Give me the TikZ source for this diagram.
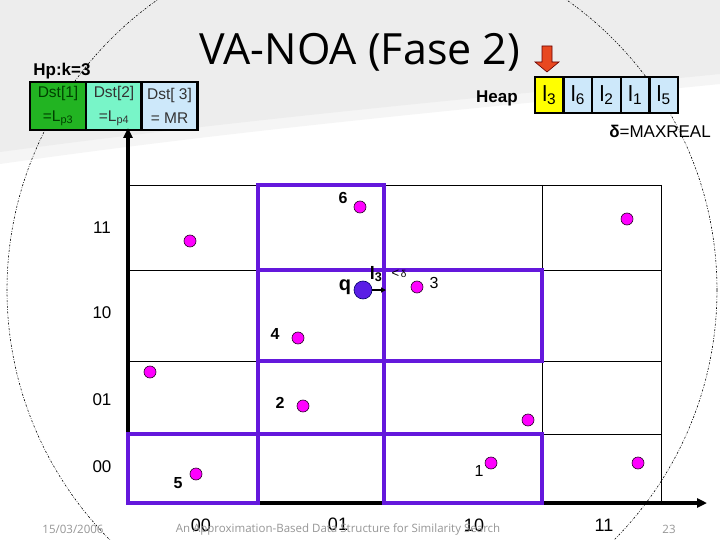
\documentclass[tikz,border=0pt]{standalone}
\usepackage{fontspec}
\setmainfont{Liberation Sans}
\newfontfamily\titlefont{Open Sans}
\usetikzlibrary{arrows.meta}
\definecolor{vpurple}{RGB}{100,24,220}
\definecolor{qblue}{RGB}{90,30,230}
\definecolor{dotmag}{RGB}{255,0,255}
\definecolor{cone}{RGB}{34,180,34}
\definecolor{ctwo}{RGB}{120,245,200}
\definecolor{cthree}{RGB}{205,232,250}
\definecolor{hyellow}{RGB}{255,255,0}
\definecolor{arrred}{RGB}{232,72,32}
\definecolor{footgray}{RGB}{150,150,150}
\tikzset{
  pt/.style={circle,fill=dotmag,draw=black!70!violet,line width=0.6pt,minimum size=12pt,inner sep=0pt},
  qpt/.style={circle,fill=qblue,draw=black!60!blue,line width=0.6pt,minimum size=18pt,inner sep=0pt},
  plab/.style={font=\fontsize{16}{16}\selectfont\bfseries,inner sep=0pt},
  axlab/.style={font=\fontsize{17}{17}\selectfont,inner sep=0pt},
  gridline/.style={black,line width=0.8pt},
  purp/.style={vpurple,line width=4pt,line cap=rect},
  axis/.style={black,line width=3.2pt,-{Triangle[length=10pt,width=9pt]}},
  dstcell/.style={draw=black,line width=2.5pt,minimum width=56pt,minimum height=48pt,inner sep=0pt,align=center,font=\fontsize{15.5}{24}\selectfont},
  heapcell/.style={draw=black,line width=2.5pt,fill=cthree,minimum width=28.6pt,minimum height=36pt,inner sep=0pt,font=\fontsize{22}{22}\selectfont},
  foot/.style={text=footgray,font=\titlefont\fontsize{11.5}{12}\selectfont,inner sep=0pt}
}
\begin{document}
\begin{tikzpicture}[x=1pt,y=-1pt]
\useasboundingbox (0,0) rectangle (720,540);
\clip (0,0) rectangle (720,540);
\fill[white] (0,0) rectangle (720,540);
\fill[black!4] (0,0) -- (720,0) -- (720,84) .. controls (520,104) and (250,128) .. (0,164) -- cycle;
\fill[black!7] (0,0) -- (720,0) -- (720,74) .. controls (520,94) and (250,118) .. (0,152) -- cycle;

% dotted circle
\draw[black,line width=0.6pt,dash pattern=on 2pt off 1.5pt on 0.6pt off 1.5pt] (362,290) circle (355pt);

% title
\node[font=\titlefont\fontsize{43}{43}\selectfont,anchor=base,inner sep=0pt] (title) at (360,65) {VA-NOA (Fase 2)};

% Hp table
\node[font=\fontsize{17}{17}\selectfont\bfseries,inner sep=0pt] (hp) at (62,71) {Hp:k=3};
\node[dstcell,fill=cone,text=green!25!black] (d1) at (58,106) {Dst[1]\\=L\textsubscript{p3}};
\node[dstcell,fill=ctwo,text=black!80] (d2) at (114,106) {Dst[2]\\=L\textsubscript{p4}};
\node[dstcell,fill=cthree,text=black!80] (d3) at (169.5,106) {Dst[ 3]\\= MR};

% heap
\node[font=\fontsize{17}{17}\selectfont\bfseries,inner sep=0pt] (heaplab) at (497,98) {Heap};
\node[heapcell,fill=hyellow] (h1) at (549.3,95) {l\textsubscript{3}};
\node[heapcell] (h2) at (577.9,95) {l\textsubscript{6}};
\node[heapcell] (h3) at (606.5,95) {l\textsubscript{2}};
\node[heapcell] (h4) at (635.1,95) {l\textsubscript{1}};
\node[heapcell] (h5) at (663.7,95) {l\textsubscript{5}};
\fill[arrred,draw=black!60!red,line width=0.6pt] (542,46) -- (552,46) -- (552,62) -- (559,62) -- (547,72) -- (535,62) -- (542,62) -- cycle;
\node[font=\fontsize{17}{17}\selectfont,inner sep=0pt] (delta) at (660,131) {{\bfseries δ}=MAXREAL};

% grid thin lines
\draw[gridline] (128,185) -- (661,185);
\draw[gridline] (128,270) -- (661,270);
\draw[gridline] (128,361) -- (661,361);
\draw[gridline] (128,434) -- (661,434);
\draw[gridline] (542,185) -- (542,503);
\draw[gridline] (661,185) -- (661,503);

% axes
\coordinate (o) at (128,503);
\coordinate (ytop) at (128,128);
\coordinate (xend) at (707,503);
\draw[axis] (o) -- (ytop);
\draw[axis] (o) -- (xend);

% purple highlighted cells
\draw[purp] (258,185) -- (384,185);
\draw[purp] (258,270) -- (542,270);
\draw[purp] (258,361) -- (542,361);
\draw[purp] (128,434) -- (542,434);
\draw[purp] (128,503) -- (258,503);
\draw[purp] (384,503) -- (542,503);
\draw[purp] (128,434) -- (128,503);
\draw[purp] (258,185) -- (258,503);
\draw[purp] (384,185) -- (384,503);
\draw[purp] (542,270) -- (542,361);
\draw[purp] (542,434) -- (542,503);

% axis labels
\node[axlab] (r11) at (102,228) {11};
\node[axlab] (r10) at (102,313) {10};
\node[axlab] (r01) at (102,400) {01};
\node[axlab] (r00) at (102,467) {00};
\node[axlab,font=\fontsize{18}{18}\selectfont] (c00) at (201,525) {00};
\node[axlab,font=\fontsize{18}{18}\selectfont] (c01) at (338,524) {01};
\node[axlab,font=\fontsize{18}{18}\selectfont] (c10) at (474,525) {10};
\node[axlab,font=\fontsize{18}{18}\selectfont] (c11) at (604,525) {11};

% points
\node[pt] (p6) at (360,207) {};
\node[plab] (l6) at (343,198) {6};
\node[pt] (pa) at (190,241) {};
\node[pt] (p3) at (417,287) {};
\node[plab,font=\fontsize{16}{16}\selectfont] (l3) at (434,283) {3};
\node[pt] (pb) at (627,219) {};
\node[pt] (p4) at (298,338) {};
\node[plab] (l4) at (275,334) {4};
\node[pt] (pc) at (150,372) {};
\node[pt] (p2) at (303,406) {};
\node[plab] (l2) at (280,403) {2};
\node[pt] (pd) at (528,420) {};
\node[pt] (p1) at (491,463) {};
\node[plab,font=\fontsize{16}{16}\selectfont] (l1) at (479,471) {1};
\node[pt] (p5) at (196,474) {};
\node[plab] (l5) at (178,483) {5};
\node[pt] (pe) at (638,463) {};

% query
\node[qpt] (q) at (363,290) {};
\node[font=\fontsize{20}{20}\selectfont\bfseries,inner sep=0pt] (qlab) at (345,287) {q};
\coordinate (qa) at (386,290);
\draw[black,line width=1.2pt,-{Triangle[length=5pt,width=5pt]}] (q) -- (qa);
\node[font=\fontsize{18}{18}\selectfont\bfseries,inner sep=0pt] (ll3) at (376,274) {l\textsubscript{3}};
\node[inner sep=0pt] (lt) at (399,274) {{\fontsize{13}{13}\selectfont<}\,{\fontsize{10}{10}\selectfont δ}};

% footer
\node[foot] (date) at (73,529) {15/03/2006};
\node[foot] (ftitle) at (338,529) {An Approximation-Based Data Structure for Similarity Search};
\node[foot] (page) at (669,529) {23};
\end{tikzpicture}
\end{document}
